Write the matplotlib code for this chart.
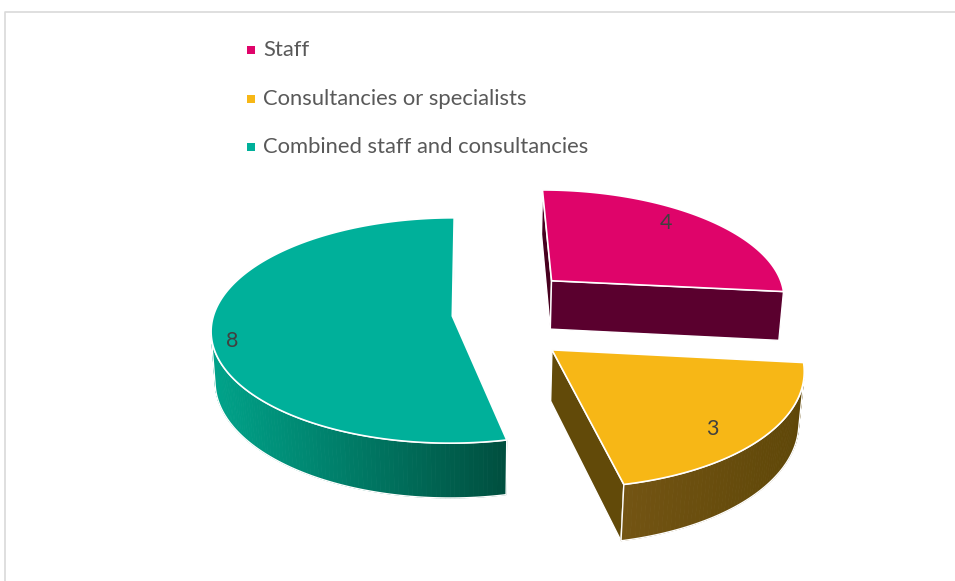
import numpy as np
import matplotlib.pyplot as plt
from matplotlib.patches import Polygon
from matplotlib.colors import to_rgb

plt.rcParams['font.family'] = ['Lato', 'DejaVu Sans']

labels = ['Staff', 'Consultancies or specialists', 'Combined staff and consultancies']
values = [4, 3, 8]
top_colors = ['#df046a', '#f7b716', '#00b09a']
# side walls: (lit colour, shaded colour) across each slice
wall_colors = [('#5c002f', '#58002c'), ('#735413', '#5f4708'), ('#00a38a', '#004f3f')]
# cut faces along the start / end radius of each slice
cut_colors = [('#47001f', '#5a002e'), ('#604808', '#624a09'), ('#007a68', '#007a68')]
explode = [0.485, 0.45, 0.07]
label_at = [(43, 0.83), (137, 0.83), (256, 0.92)]   # (angle, radius) of the value text

# camera for the 3d pie (pixel space)
SCALE, TILT, DIST = 238.7, 0.4655, 6.974
CAM_X, CAM_V = -0.001, 0.1132
CX, CY = 468.7, 288.2
THICK = 0.239

total = sum(values)
edges = np.concatenate([[0], np.cumsum(values)]) / total * 360
mids = (edges[:-1] + edges[1:]) / 2


def offset(k):
    m = np.radians(mids[k])
    return explode[k] * np.sin(m), explode[k] * np.cos(m)


def point3d(k, a_deg, r, z):
    ox, oy = offset(k)
    a = np.radians(a_deg)
    return ox + r * np.sin(a), oy + r * np.cos(a), -THICK * z


def project(X, Y, Z):
    v = Y * np.sin(TILT) + Z * np.cos(TILT)
    w = Y * np.cos(TILT) - Z * np.sin(TILT)
    f = DIST / (DIST + w)
    return CX + SCALE * (X - CAM_X) * f, CY - SCALE * (v - CAM_V) * f


cam = np.array([CAM_X,
                CAM_V * np.sin(TILT) - DIST * np.cos(TILT),
                CAM_V * np.cos(TILT) + DIST * np.sin(TILT)])


def facing(normal, p):
    return np.dot(normal, cam - np.asarray(p)) > 0


def scr(k, a, r, z):
    return project(*point3d(k, a, r, z))


fig = plt.figure(figsize=(9.55, 5.81), dpi=100)
ax = fig.add_axes([0, 0, 1, 1])
ax.set_xlim(0, 955)
ax.set_ylim(581, 0)
ax.axis('off')

# chart frame
ax.plot([4.5, 4.5, 955], [581, 11.5, 11.5], color='#d9d9d9', lw=1.2)

# far slices first
order = np.argsort([-offset(k)[1] for k in range(3)])
for k in order:
    a1, a2 = edges[k], edges[k + 1]
    arc = np.linspace(a1, a2, int(a2 - a1) + 1)
    tx, ty = scr(k, arc, 1, 0)
    bx, by = scr(k, arc, 1, 1)
    cx0, cy0 = scr(k, 0, 0, 0)
    cx1, cy1 = scr(k, 0, 0, 1)

    # cut faces along the radii
    r1, r2 = np.radians(a1), np.radians(a2)
    for a, nrm, col in [(a1, (-np.cos(r1), np.sin(r1), 0), cut_colors[k][0]),
                        (a2, (np.cos(r2), -np.sin(r2), 0), cut_colors[k][1])]:
        if facing(nrm, point3d(k, a, 0.5, 0.5)):
            rx0, ry0 = scr(k, a, 1, 0)
            rx1, ry1 = scr(k, a, 1, 1)
            ax.add_patch(Polygon([(cx0, cy0), (rx0, ry0), (rx1, ry1), (cx1, cy1)],
                                 fc=col, ec='white', lw=1, joinstyle='round'))

    # outer wall, shaded left to right
    am = (arc[:-1] + arc[1:]) / 2
    vis = [i for i in range(len(am))
           if facing((np.sin(np.radians(am[i])), np.cos(np.radians(am[i])), 0), point3d(k, am[i], 1, 0.5))]
    if vis:
        xm = (tx[vis] + tx[[i + 1 for i in vis]]) / 2
        lo, hi = xm.min(), xm.max()
        c_lit, c_dark = np.array(to_rgb(wall_colors[k][0])), np.array(to_rgb(wall_colors[k][1]))
        for i, x in zip(vis, xm):
            s = (x - lo) / (hi - lo) if hi > lo else 0
            col = c_lit * (1 - s) + c_dark * s
            ax.add_patch(Polygon([(tx[i], ty[i]), (tx[i + 1], ty[i + 1]), (bx[i + 1], by[i + 1]), (bx[i], by[i])],
                                 fc=col, ec=col, lw=0.6))
        i0, i1 = vis[0], vis[-1] + 1
        outline = list(zip(tx[i0:i1 + 1], ty[i0:i1 + 1])) + list(zip(bx[i0:i1 + 1], by[i0:i1 + 1]))[::-1]
        ax.add_patch(Polygon(outline, fill=False, ec='white', lw=1, joinstyle='round'))

    # top face
    ax.add_patch(Polygon(np.column_stack([np.r_[cx0, tx], np.r_[cy0, ty]]),
                         fc=top_colors[k], ec='white', lw=1.2, joinstyle='round'))

    la, lr = label_at[k]
    lx, ly = scr(k, la, lr, 0)
    ax.text(lx, ly, str(values[k]), ha='center', va='center', fontsize=15.5, color='#404040')

# legend
leg_y = [50, 99, 147]
for lab, col, y in zip(labels, top_colors, leg_y):
    ax.scatter(251, y, marker='s', s=34, color=col, linewidths=0)
    ax.text(263, y, lab, ha='left', va='center', fontsize=15.8, color='#595959')

fig.savefig('out.png')
